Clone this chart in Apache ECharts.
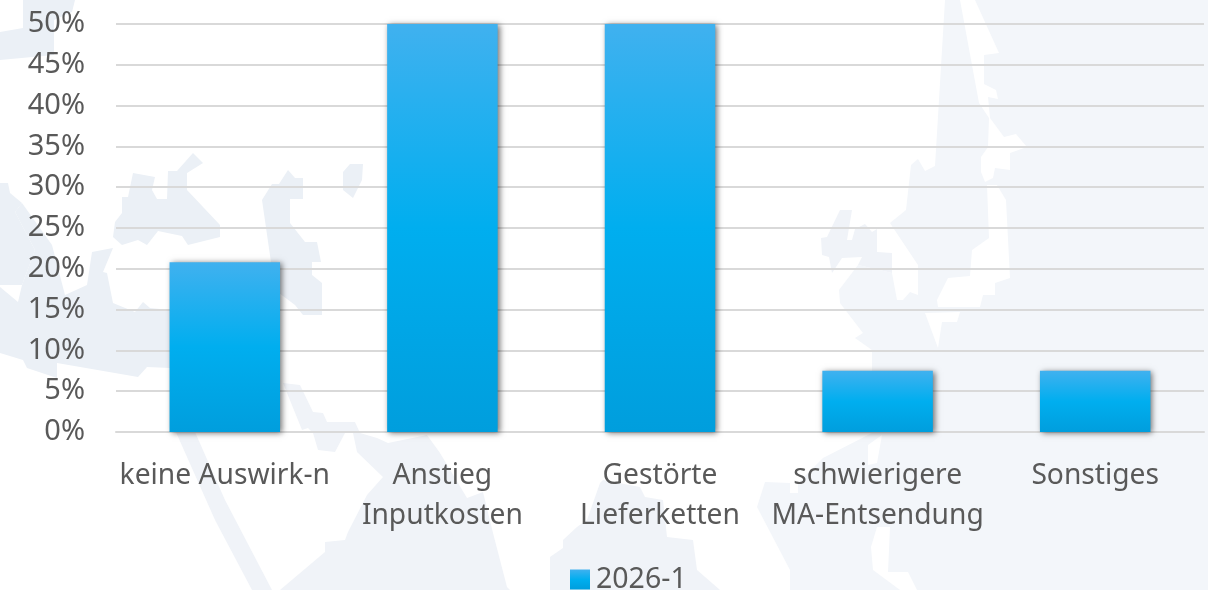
<!DOCTYPE html>
<html><head><meta charset="utf-8">
<style>html,body{margin:0;padding:0;background:#fff}#c{width:1208px;height:590px}</style>
<script src="https://cdn.jsdelivr.net/npm/echarts@6/dist/echarts.min.js"></script>
</head><body><div id="c"></div>
<script>
const categories = ['keine Auswirk-n','Anstieg\nInputkosten','Gestörte\nLieferketten','schwierigere\nMA-Entsendung','Sonstiges'];
const seriesName = '2026-1';
const values = [20.8,50,50,7.5,7.5];
const FONT = '"Noto Sans", sans-serif';
const TEXT = '#595959';

// decorative map backdrop (not data)
function bg(points, fill){ return {type:'polygon', silent:true, z:-10, shape:{points}, style:{fill}}; }
const L='#ebf0f6', M='#f0f3f8', R='#f3f6fa';
const backdrop = [
 bg([[0,32],[23,28],[23,0],[75,0],[72,12],[54,20],[54,55],[0,60]],L),
 bg([[133,173],[155,177],[152,190],[157,199],[167,199],[168,171],[177,171],[193,153],[203,163],[187,173],[187,190],[220,225],[220,237],[188,245],[182,236],[158,231],[147,245],[138,240],[122,245],[113,237],[115,222],[122,213],[122,197],[128,197]],L),
 bg([[262,200],[272,184],[279,184],[288,170],[295,178],[303,178],[303,199],[290,199],[290,223],[305,242],[317,242],[321,262],[312,262],[312,275],[322,283],[322,315],[303,315],[295,305],[275,290]],L),
 bg([[343,172],[350,164],[363,164],[362,180],[353,198],[343,190]],L),
 bg([[0,183],[8,183],[10,193],[22,203],[15,212],[35,250],[22,285],[0,285]],L),
 bg([[15,212],[22,203],[52,245],[65,295],[87,285],[92,252],[113,248],[103,272],[107,273],[113,303],[135,312],[143,302],[150,308],[170,310],[170,368],[147,367],[138,377],[57,363],[57,378],[27,368],[23,360],[0,353],[0,287],[18,302],[22,285],[35,250]],L),
 bg([[175,430],[195,432],[225,500],[272,590],[252,590],[215,520]],M),
 bg([[283,383],[300,385],[313,412],[323,413],[327,422],[355,422],[360,433],[377,438],[388,443],[427,435],[440,453],[467,498],[483,492],[493,533],[507,587],[510,590],[280,590],[325,552],[325,542],[345,540],[348,532],[367,495],[383,477],[357,452],[353,433],[345,433],[335,452],[318,450],[313,433],[308,428],[302,430]],M),
 bg([[550,557],[563,548],[563,540],[577,527],[587,520],[600,483],[603,480],[640,487],[645,497],[663,500],[667,537],[693,540],[697,570],[720,590],[550,590]],M),
 bg([[945,0],[1208,0],[1208,590],[790,590],[790,570],[757,507],[765,482],[790,483],[790,493],[798,493],[798,483],[823,458],[868,435],[872,433],[872,350],[855,338],[863,333],[840,303],[839,290],[858,265],[892,273],[897,300],[903,300],[910,292],[918,295],[918,265],[890,223],[906,210],[911,165],[918,159],[925,171],[935,166]],R),
 bg([[840,210],[852,210],[847,240],[852,240],[855,229],[865,224],[872,232],[877,229],[877,252],[892,253],[892,273],[858,265],[862,257],[842,258],[832,273],[829,257],[822,255],[821,238],[827,237]],M),
 bg([[960,0],[975,0],[999,53],[984,55],[984,84],[996,90],[998,99],[988,97],[990,118],[1004,137],[1016,134],[1027,147],[1010,153],[1010,170],[995,168],[993,178],[985,182],[981,172],[981,157],[988,147],[989,118],[979,103]],'#fff'),
 bg([[937,300],[948,278],[970,276],[972,250],[989,238],[987,185],[997,185],[1006,200],[1010,278],[995,283],[995,295],[983,295],[980,307],[938,307]],'#fff'),
 bg([[925,313],[938,348],[942,322],[957,322],[960,312]],'#fff'),
 bg([[868,445],[882,435],[877,463],[868,465]],'#fff'),
 bg([[877,527],[890,527],[888,572],[908,572],[917,590],[900,590],[873,570],[871,547]],'#fff')
];

const chart = echarts.init(document.getElementById('c'), null, {renderer:'canvas'});
chart.setOption({
  animation:false,
  backgroundColor:'#fff',
  graphic:{elements:backdrop},
  grid:{left:116,right:4,top:24,height:408,containLabel:false},
  legend:{show:true,left:565,top:560,itemWidth:20,itemHeight:20,itemGap:7,icon:'rect',
    textStyle:{fontFamily:FONT,fontSize:28.5,color:TEXT,padding:[1,0,0,1]},data:[seriesName]},
  xAxis:{type:'category',data:categories,
    axisTick:{show:false},
    axisLine:{lineStyle:{color:'#d9d9d9',width:2}},
    axisLabel:{interval:0,margin:24,fontFamily:FONT,fontSize:28.2,color:TEXT,lineHeight:40}},
  yAxis:{type:'value',min:0,max:50,interval:5,
    axisLine:{show:false},axisTick:{show:false},
    splitLine:{lineStyle:{color:'#d9d9d9',width:2}},
    axisLabel:{formatter:'{value}%',margin:31,fontFamily:FONT,fontSize:29,color:TEXT,padding:[5,0,0,0]}},
  series:[{name:seriesName,type:'bar',data:values,barWidth:110.5,
    itemStyle:{
      color:new echarts.graphic.LinearGradient(0,0,0,1,[
        {offset:0,color:'#40b1ef'},{offset:0.5,color:'#00aeef'},{offset:1,color:'#009edd'}]),
      shadowColor:'rgba(0,0,0,0.55)',shadowBlur:6,shadowOffsetX:2,shadowOffsetY:1}
  }]
});
</script></body></html>
